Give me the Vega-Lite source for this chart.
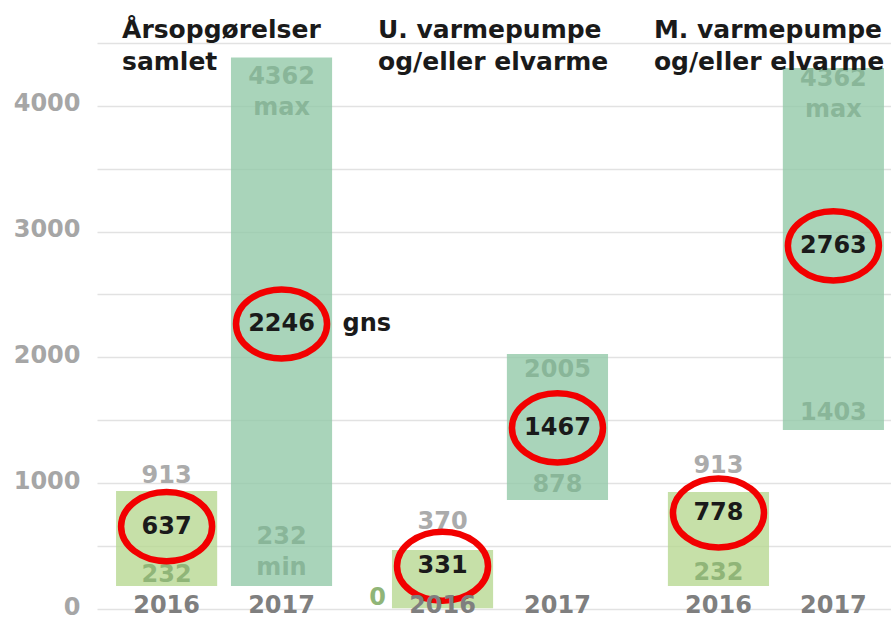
{
  "$schema": "https://vega.github.io/schema/vega-lite/v6.json",
  "width": 794,
  "height": 604,
  "autosize": {"type": "none"},
  "padding": {"left": 97, "top": 5, "right": 0, "bottom": 10},
  "background": "white",
  "config": {"view": {"stroke": null}, "font": "DejaVu Sans"},
  "resolve": {"scale": {"color": "independent"}},
  "datasets": {
    "bars": [
      {"group": "Årsopgørelser samlet", "year": "2016", "low": 183, "high": 938},
      {"group": "Årsopgørelser samlet", "year": "2017", "low": 183, "high": 4382},
      {"group": "U. varmepumpe og/eller elvarme", "year": "2016", "low": 5, "high": 469},
      {"group": "U. varmepumpe og/eller elvarme", "year": "2017", "low": 866, "high": 2027},
      {"group": "M. varmepumpe og/eller elvarme", "year": "2016", "low": 183, "high": 930},
      {"group": "M. varmepumpe og/eller elvarme", "year": "2017", "low": 1423, "high": 4300}
    ],
    "labels": [
      {"group": "Årsopgørelser samlet", "year": "2016", "text": "913", "role": "out", "y": 1057},
      {"group": "Årsopgørelser samlet", "year": "2016", "text": "637", "role": "mean", "y": 655},
      {"group": "Årsopgørelser samlet", "year": "2016", "text": "232", "role": "in16", "y": 270},
      {"group": "Årsopgørelser samlet", "year": "2017", "text": "4362", "role": "in17", "y": 4229},
      {"group": "Årsopgørelser samlet", "year": "2017", "text": "max", "role": "in17", "y": 3983},
      {"group": "Årsopgørelser samlet", "year": "2017", "text": "2246", "role": "mean", "y": 2265},
      {"group": "Årsopgørelser samlet", "year": "2017", "text": "gns", "role": "note", "y": 2265},
      {"group": "Årsopgørelser samlet", "year": "2017", "text": "232", "role": "in17", "y": 572},
      {"group": "Årsopgørelser samlet", "year": "2017", "text": "min", "role": "in17", "y": 326},
      {"group": "U. varmepumpe og/eller elvarme", "year": "2016", "text": "370", "role": "out", "y": 692},
      {"group": "U. varmepumpe og/eller elvarme", "year": "2016", "text": "331", "role": "mean", "y": 340},
      {"group": "U. varmepumpe og/eller elvarme", "year": "2016", "text": "0", "role": "zero", "y": 87},
      {"group": "U. varmepumpe og/eller elvarme", "year": "2017", "text": "2005", "role": "in17", "y": 1900},
      {"group": "U. varmepumpe og/eller elvarme", "year": "2017", "text": "1467", "role": "mean", "y": 1439},
      {"group": "U. varmepumpe og/eller elvarme", "year": "2017", "text": "878", "role": "in17", "y": 986},
      {"group": "M. varmepumpe og/eller elvarme", "year": "2016", "text": "913", "role": "out", "y": 1137},
      {"group": "M. varmepumpe og/eller elvarme", "year": "2016", "text": "778", "role": "mean", "y": 763},
      {"group": "M. varmepumpe og/eller elvarme", "year": "2016", "text": "232", "role": "in16", "y": 286},
      {"group": "M. varmepumpe og/eller elvarme", "year": "2017", "text": "4362", "role": "in17", "y": 4213},
      {"group": "M. varmepumpe og/eller elvarme", "year": "2017", "text": "max", "role": "in17", "y": 3967},
      {"group": "M. varmepumpe og/eller elvarme", "year": "2017", "text": "2763", "role": "mean", "y": 2886},
      {"group": "M. varmepumpe og/eller elvarme", "year": "2017", "text": "1403", "role": "in17", "y": 1558}
    ],
    "titles": [
      {"group": "Årsopgørelser samlet", "line": "Årsopgørelser", "ypos": 4603},
      {"group": "Årsopgørelser samlet", "line": "samlet", "ypos": 4348},
      {"group": "U. varmepumpe og/eller elvarme", "line": "U. varmepumpe", "ypos": 4603},
      {"group": "U. varmepumpe og/eller elvarme", "line": "og/eller elvarme", "ypos": 4348},
      {"group": "M. varmepumpe og/eller elvarme", "line": "M. varmepumpe", "ypos": 4603},
      {"group": "M. varmepumpe og/eller elvarme", "line": "og/eller elvarme", "ypos": 4348}
    ]
  },
  "layer": [
    {
      "data": {"name": "bars"},
      "mark": {"type": "bar", "opacity": 0.8},
      "encoding": {
        "x": {"field": "group", "type": "nominal", "axis": null,
              "scale": {"domain": ["Årsopgørelser samlet", "U. varmepumpe og/eller elvarme", "M. varmepumpe og/eller elvarme"],
                        "paddingInner": 0.217, "paddingOuter": 0.069, "range": [0, 806]}},
        "xOffset": {"field": "year", "type": "nominal", "scale": {"domain": ["2016", "2017"], "paddingInner": 0.12, "paddingOuter": 0}},
        "y": {"field": "high", "type": "quantitative", "title": null,
              "scale": {"domain": [0, 4800], "nice": false, "zero": true},
              "axis": {"values": [0, 250, 500, 750, 1000, 1250, 1500, 1750, 2000, 2250, 2500, 2750, 3000, 3250, 3500, 3750, 4000, 4250, 4500],
                       "labelExpr": "datum.value % 1000 == 0 ? datum.value : ''",
                       "ticks": false, "domain": false, "title": null,
                       "gridColor": "#e2e2e2", "gridWidth": 1.5,
                       "labelFont": "DejaVu Sans", "labelFontWeight": "bold", "labelFontSize": 24,
                       "labelColor": "#a6a6a6", "labelPadding": 17, "labelOffset": -2}},
        "y2": {"field": "low"},
        "color": {"field": "year", "type": "nominal", "legend": null,
                  "scale": {"domain": ["2016", "2017"], "range": ["#b8d892", "#94c9a9"]}}
      }
    },
    {
      "data": {"name": "labels"},
      "transform": [{"filter": "datum.role == 'out' || datum.role == 'in16' || datum.role == 'in17'"}],
      "mark": {"type": "text", "font": "DejaVu Sans", "fontWeight": "bold", "fontSize": 24, "baseline": "middle"},
      "encoding": {
        "x": {"field": "group", "type": "nominal"},
        "xOffset": {"field": "year", "type": "nominal"},
        "y": {"field": "y", "type": "quantitative", "title": null},
        "text": {"field": "text"},
        "color": {"field": "role", "type": "nominal", "legend": null,
                  "scale": {"domain": ["out", "in16", "in17"], "range": ["#ababab", "#90b578", "#89b699"]}}
      }
    },
    {
      "data": {"name": "labels"},
      "transform": [{"filter": "datum.role == 'mean'"}],
      "mark": {"type": "point", "shape": "M -1 0 A 1 0.76 0 1 1 1 0 A 1 0.76 0 1 1 -1 0 Z",
               "size": 8281, "filled": false, "stroke": "#f20000", "strokeWidth": 6.5, "opacity": 1},
      "encoding": {
        "x": {"field": "group", "type": "nominal"},
        "xOffset": {"field": "year", "type": "nominal"},
        "y": {"field": "y", "type": "quantitative", "title": null}
      }
    },
    {
      "data": {"name": "labels"},
      "transform": [{"filter": "datum.role == 'mean'"}],
      "mark": {"type": "text", "font": "DejaVu Sans", "fontWeight": "bold", "fontSize": 24, "baseline": "middle", "color": "#1a1a1a"},
      "encoding": {
        "x": {"field": "group", "type": "nominal"},
        "xOffset": {"field": "year", "type": "nominal"},
        "y": {"field": "y", "type": "quantitative", "title": null},
        "text": {"field": "text"}
      }
    },
    {
      "data": {"name": "labels"},
      "transform": [{"filter": "datum.role == 'note'"}],
      "mark": {"type": "text", "font": "DejaVu Sans", "fontWeight": "bold", "fontSize": 24, "baseline": "middle", "align": "left", "dx": 61, "color": "#1a1a1a"},
      "encoding": {
        "x": {"field": "group", "type": "nominal"},
        "xOffset": {"field": "year", "type": "nominal"},
        "y": {"field": "y", "type": "quantitative", "title": null},
        "text": {"field": "text"}
      }
    },
    {
      "data": {"name": "labels"},
      "transform": [{"filter": "datum.role == 'zero'"}],
      "mark": {"type": "text", "font": "DejaVu Sans", "fontWeight": "bold", "fontSize": 24, "baseline": "middle", "dx": -65, "color": "#90b578"},
      "encoding": {
        "x": {"field": "group", "type": "nominal"},
        "xOffset": {"field": "year", "type": "nominal"},
        "y": {"field": "y", "type": "quantitative", "title": null},
        "text": {"field": "text"}
      }
    },
    {
      "data": {"name": "bars"},
      "mark": {"type": "text", "font": "DejaVu Sans", "fontWeight": "bold", "fontSize": 24, "baseline": "middle", "dy": -3, "color": "#7f7f7f"},
      "encoding": {
        "x": {"field": "group", "type": "nominal"},
        "xOffset": {"field": "year", "type": "nominal"},
        "y": {"datum": 0, "type": "quantitative", "title": null},
        "text": {"field": "year"}
      }
    },
    {
      "data": {"name": "titles"},
      "transform": [{"filter": "datum.group == 'Årsopgørelser samlet'"}],
      "mark": {"type": "text", "font": "DejaVu Sans", "fontWeight": "bold", "fontSize": 25, "baseline": "middle", "align": "left", "dx": 6, "color": "#1a1a1a"},
      "encoding": {
        "x": {"field": "group", "type": "nominal", "bandPosition": 0},
        "y": {"field": "ypos", "type": "quantitative", "title": null},
        "text": {"field": "line"}
      }
    },
    {
      "data": {"name": "titles"},
      "transform": [{"filter": "datum.group != 'Årsopgørelser samlet'"}],
      "mark": {"type": "text", "font": "DejaVu Sans", "fontWeight": "bold", "fontSize": 25, "baseline": "middle", "align": "left", "dx": -14, "color": "#1a1a1a"},
      "encoding": {
        "x": {"field": "group", "type": "nominal", "bandPosition": 0},
        "y": {"field": "ypos", "type": "quantitative", "title": null},
        "text": {"field": "line"}
      }
    }
  ]
}
